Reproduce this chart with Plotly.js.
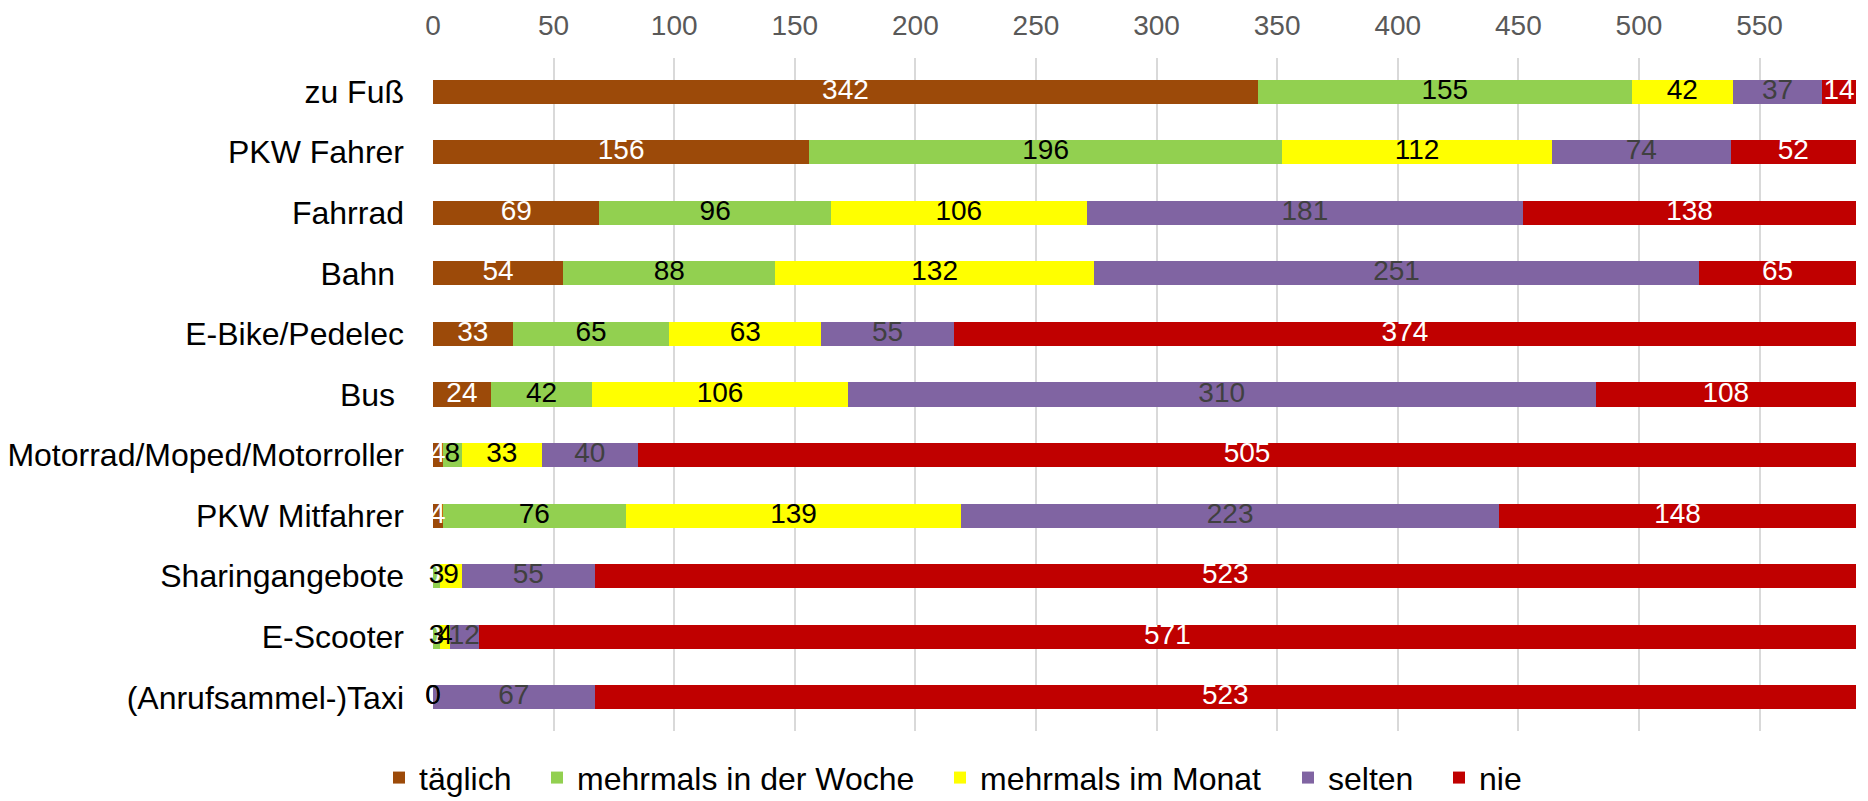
<!DOCTYPE html>
<html>
<head>
<meta charset="utf-8">
<script src="https://cdn.plot.ly/plotly-3.0.1.min.js"></script>
<style>html,body{margin:0;padding:0;background:#fff;}#chart{width:1868px;height:801px;}</style>
</head>
<body>
<div id="chart"></div>
<script>
const categories = ["zu Fuß","PKW Fahrer","Fahrrad","Bahn","E-Bike/Pedelec","Bus","Motorrad/Moped/Motorroller","PKW Mitfahrer","Sharingangebote","E-Scooter","(Anrufsammel-)Taxi"];
const categoryLabels = ["zu Fuß","PKW Fahrer","Fahrrad","Bahn\u00A0","E-Bike/Pedelec","Bus\u00A0","Motorrad/Moped/Motorroller","PKW Mitfahrer","Sharingangebote","E-Scooter","(Anrufsammel-)Taxi"];
const seriesNames = ["täglich","mehrmals in der Woche","mehrmals im Monat","selten","nie"];
const taeglich = [342,156,69,54,33,24,4,4,0,0,0];
const woche    = [155,196,96,88,65,42,8,76,3,3,0];
const monat    = [42,112,106,132,63,106,33,139,9,4,0];
const selten   = [37,74,181,251,55,310,40,223,55,12,67];
const nie      = [14,52,138,65,374,108,505,148,523,571,523];
const xTicks = [0,50,100,150,200,250,300,350,400,450,500,550];

const seriesValues = [taeglich, woche, monat, selten, nie];
const colors = ["#9C4A09","#92D050","#FFFF00","#8064A2","#C00000"];
const textColors = ["#FFFFFF","#000000","#000000","#404040","#FFFFFF"];
const legendIds = ["legend","legend2","legend3","legend4","legend5"];
const legendLeft = [393, 551, 954, 1302, 1453]; // legend entry positions (px)
const FONT = "Liberation Sans, Arial, sans-serif";

const barTraces = seriesValues.map((vals, i) => ({
  type: "bar",
  orientation: "h",
  name: seriesNames[i],
  legend: legendIds[i],
  y: categories,
  x: vals,
  marker: {color: colors[i], line: {width: 0}},
  hoverinfo: "skip"
}));

// label traces: centred on each stacked segment, drawn above all bars
const cum = categories.map(() => 0);
const labelTraces = seriesValues.map((vals, i) => {
  const xs = vals.map((v, k) => cum[k] + v / 2);
  vals.forEach((v, k) => { cum[k] += v; });
  return {
    type: "scatter",
    mode: "text",
    x: xs,
    y: categories,
    text: vals.map(String),
    textposition: "middle center",
    textfont: {family: FONT, size: 28, color: textColors[i]},
    cliponaxis: false,
    showlegend: false,
    hoverinfo: "skip"
  };
});

const layout = {
  width: 1868, height: 801,
  margin: {l: 433, r: 12, t: 58, b: 70},
  paper_bgcolor: "#fff", plot_bgcolor: "#fff",
  barmode: "stack",
  bargap: 0.6,
  showlegend: true,
  hovermode: false,
  font: {family: FONT, size: 28, color: "#000"},
  xaxis: {
    side: "top",
    range: [0, 590],
    tickvals: xTicks,
    ticktext: xTicks.map(String),
    showgrid: true, gridcolor: "#D9D9D9", gridwidth: 2,
    zeroline: false, showline: false,
    ticks: "outside", ticklen: 11, tickcolor: "rgba(0,0,0,0)",
    tickfont: {family: FONT, size: 28, color: "#595959"},
    fixedrange: true
  },
  yaxis: {
    type: "category",
    autorange: "reversed",
    tickvals: categories,
    ticktext: categoryLabels,
    showgrid: false, zeroline: false, showline: false,
    ticks: "", ticklabelstandoff: 28,
    tickfont: {family: FONT, size: 32, color: "#000"},
    fixedrange: true
  }
};

legendIds.forEach((id, i) => {
  layout[id] = {
    orientation: "h",
    xref: "container", yref: "container",
    x: (legendLeft[i] - 14) / 1868, xanchor: "left",
    y: 0.029, yanchor: "middle",
    font: {family: FONT, size: 32, color: "#000"},
    itemwidth: 30,
    bgcolor: "rgba(0,0,0,0)"
  };
});

Plotly.newPlot("chart", barTraces.concat(labelTraces), layout, {displayModeBar: false, staticPlot: true});
</script>
</body>
</html>
